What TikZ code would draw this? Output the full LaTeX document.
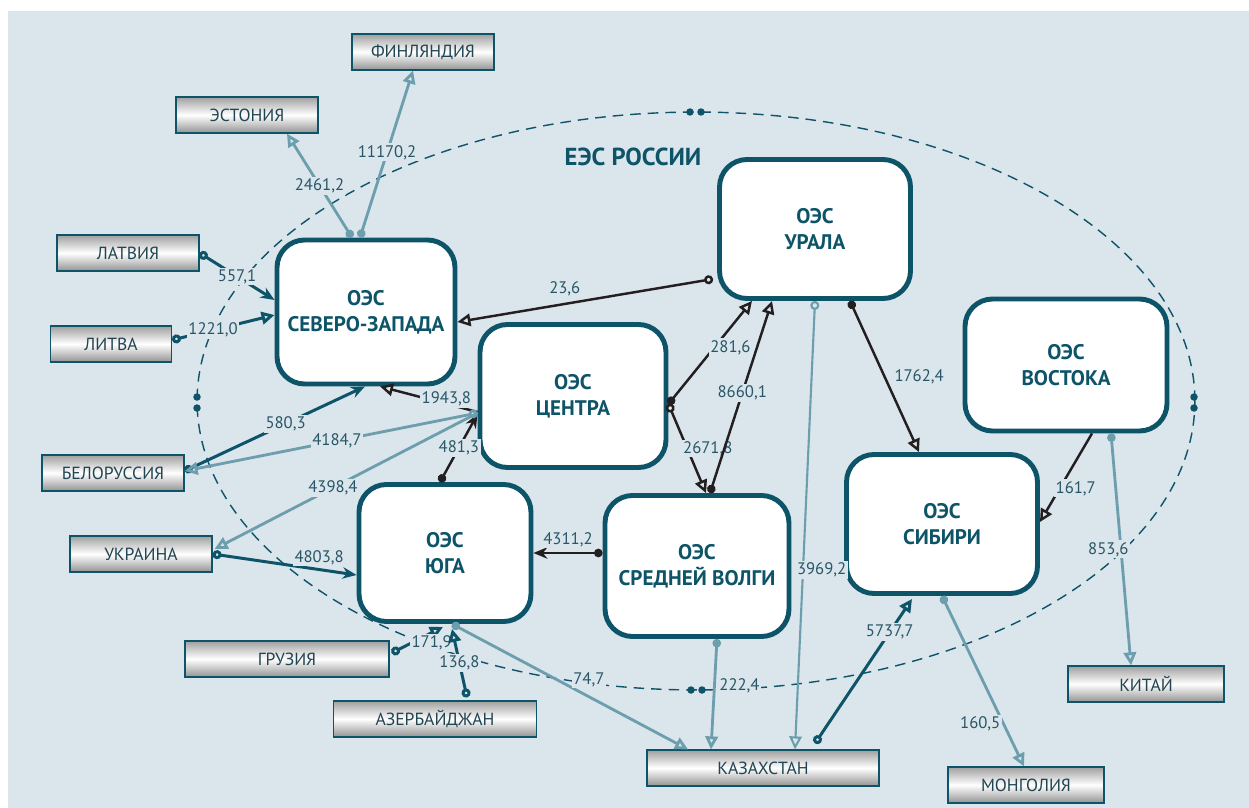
\documentclass[tikz,border=0pt]{standalone}
\usepackage{fontspec}
\setmainfont{PT Sans}
\usetikzlibrary{arrows.meta,calc}

\definecolor{oesteal}{RGB}{14,84,104}
\definecolor{oeslight}{RGB}{108,158,173}
\definecolor{oesblack}{RGB}{35,31,32}
\definecolor{oesbg}{RGB}{218,229,236}
\definecolor{oestext}{RGB}{40,86,102}

\tikzset{
  ring/.tip={Circle[open,length=1.8mm]},
  blob/.tip={Circle[length=1.7mm]},
  hollow/.tip={Triangle[open,length=2.6mm,width=2.5mm]},
  sharp/.tip={Stealth[length=2.8mm,width=2.3mm]}
}

\begin{document}
\begin{tikzpicture}[x=0.02cm, y=-0.02cm,
    oes/.style={draw=oesteal, fill=white, line width=2.8pt, rounded corners=0.55cm, align=center, text=oesteal, font=\bfseries\fontsize{12}{15}\selectfont},
    land/.style={draw=oesteal, line width=0.7pt, top color=gray!75, bottom color=gray!85, middle color=white, minimum height=0.72cm, text=oestext!80!black, font=\fontsize{10}{12}\selectfont},
    val/.style={fill=oesbg, inner sep=1pt, text=oestext, font=\fontsize{9.5}{11}\selectfont},
    dk/.style={draw=oesteal, line width=1.7pt},
    bk/.style={draw=oesblack, line width=1.4pt},
    lt/.style={draw=oeslight, line width=1.6pt}]
    \useasboundingbox (0,0) rectangle (1249,808);
    \fill[oesbg] (8,11) rectangle (1249,808);

    % boundary of the unified system
    \draw[oesteal, line width=0.8pt, dash pattern=on 6pt off 4pt] (696,401) ellipse [x radius=9.98cm, y radius=5.78cm];
    \foreach \px/\py in {690/112, 701/112, 691/690, 702/690, 197/397, 197/408, 1194/397, 1194/408}
        \fill[oesteal] (\px,\py) circle [radius=0.075cm];
    \node[text=oesteal, font=\bfseries\fontsize{14}{16}\selectfont] (title) at (633,157) {ЕЭС РОССИИ};

    % regional systems
    \node[oes, minimum width=3.56cm, minimum height=2.88cm] (sz) at (366,312) {ОЭС\\СЕВЕРО-ЗАПАДА};
    \node[oes, minimum width=3.72cm, minimum height=2.86cm] (cen) at (573,396) {ОЭС\\ЦЕНТРА};
    \node[oes, minimum width=3.82cm, minimum height=2.78cm] (ural) at (815,229) {ОЭС\\УРАЛА};
    \node[oes, minimum width=4.04cm, minimum height=2.64cm] (vost) at (1066,365) {ОЭС\\ВОСТОКА};
    \node[oes, minimum width=3.82cm, minimum height=2.78cm] (sib) at (942,524) {ОЭС\\СИБИРИ};
    \node[oes, minimum width=3.44cm, minimum height=2.74cm] (yug) at (445,553) {ОЭС\\ЮГА};
    \node[oes, minimum width=3.68cm, minimum height=2.82cm] (sv) at (697,566) {ОЭС\\СРЕДНЕЙ ВОЛГИ};

    % neighbouring countries
    \node[land, minimum width=2.84cm] (fin) at (423,52) {ФИНЛЯНДИЯ};
    \node[land, minimum width=2.84cm] (est) at (247,115) {ЭСТОНИЯ};
    \node[land, minimum width=2.84cm] (lat) at (128,253) {ЛАТВИЯ};
    \node[land, minimum width=2.42cm] (lit) at (111,344) {ЛИТВА};
    \node[land, minimum width=2.84cm] (bel) at (113,473) {БЕЛОРУССИЯ};
    \node[land, minimum width=2.84cm] (ukr) at (141,554) {УКРАИНА};
    \node[land, minimum width=4.08cm] (gruz) at (287,659) {ГРУЗИЯ};
    \node[land, minimum width=4.06cm] (azer) at (435,719) {АЗЕРБАЙДЖАН};
    \node[land, minimum width=4.64cm] (kaz) at (763,768) {КАЗАХСТАН};
    \node[land, minimum width=3.12cm] (mon) at (1026,785) {МОНГОЛИЯ};
    \node[land, minimum width=3.12cm] (kit) at (1146,684) {КИТАЙ};

    % imports into the system
    \draw[dk, ring-sharp] (lat.east) -- node[val, pos=0.5] {557,1} ($(sz.west)+(0,-12)$);
    \draw[dk, ring-hollow] ($(lit.east)+(0,-4)$) -- node[val, pos=0.4] {1221,0} ($(sz.west)+(0,3)$);
    \draw[dk, blob-sharp] ($(bel.east)+(0,-2)$) -- node[val, pos=0.56] {580,3} ($(sz.south)+(-1,0)$);
    \draw[dk, ring-sharp] (ukr.east) -- node[val, pos=0.74, above=1pt] {4803,8} ($(yug.west)+(0,22)$);
    \draw[dk, ring-hollow] ($(gruz.east)+(2,-6)$) -- node[val, pos=0.78, yshift=-6pt] {171,9} ($(yug.south)+(-2,3)$);
    \draw[dk, ring-hollow] ($(azer.north)+(32,-3)$) -- node[val, pos=0.5] {136,8} ($(yug.south)+(7,5)$);
    \draw[dk, ring-hollow] ($(kaz.north)+(52,-6)$) -- node[val, pos=0.77] {5737,7} ($(sib.south)+(-30,3)$);

    % flows inside the system
    \draw[bk, -hollow] ($(cen.west)+(0,16)$) -- node[val, pos=0.32, above=-3pt] {1943,8} ($(sz.south)+(14,0)$);
    \draw[bk, blob-sharp] ($(yug.north)+(-5,0)$) -- node[val, pos=0.5] {481,3} ($(cen.west)+(0,18)$);
    \draw[bk, blob-sharp] ($(sv.west)+(0,-13)$) -- node[val, midway, above=2pt] {4311,2} ($(yug.east)+(0,0)$);
    \draw[bk, blob-hollow] ($(cen.east)+(0,8)$) -- node[val, pos=0.55, right=-4pt] {281,6} ($(ural.south)+(-63,0)$);
    \draw[bk, ring-hollow] ($(cen.east)+(0,8)$) -- node[val, pos=0.5, right=-4pt] {2671,8} ($(sv.north)+(9,0)$);
    \draw[bk, blob-hollow] ($(sv.north)+(13,0)$) -- node[val, pos=0.52] {8660,1} ($(ural.south)+(-43,0)$);
    \draw[bk, ring-hollow] ($(ural.west)+(-4,50)$) -- node[val, pos=0.58, above=3pt] {23,6} ($(sz.east)+(0,10)$);
    \draw[bk, blob-hollow] ($(ural.south)+(35,0)$) -- node[val, pos=0.5, right=4pt] {1762,4} ($(sib.north)+(-23,0)$);
    \draw[bk, -hollow] ($(vost.south)+(26,0)$) -- node[val, pos=0.62, right=-4pt] {161,7} ($(sib.east)+(0,-2)$);

    % exports out of the system
    \draw[lt, ring-hollow] ($(cen.west)+(0,17)$) -- node[val, pos=0.48] {4184,7} ($(bel.east)+(0,-2)$);
    \draw[lt, -hollow] ($(cen.west)+(0,17)$) -- node[val, pos=0.55] {4398,4} ($(ukr.east)+(2,-5)$);
    \draw[lt, blob-hollow] ($(yug.south)+(7,0)$) -- node[val, pos=0.58, above=4pt] {74,7} ($(kaz.north)+(-75,0)$);
    \draw[lt, line width=1.2pt, ring-hollow] (ural.south) -- node[val, pos=0.6, right=-5pt] {3969,2} ($(kaz.north)+(32,0)$);
    \draw[lt, blob-hollow] ($(sv.south)+(20,0)$) -- node[val, pos=0.42, right=1pt] {222,4} ($(kaz.north)+(-52,0)$);
    \draw[lt, blob-hollow] ($(vost.south)+(45,0)$) -- node[val, pos=0.5, left=-6pt] {853,6} ($(kit.north)+(-15,0)$);
    \draw[lt, blob-hollow] (sib.south) -- node[val, pos=0.75, left=0pt] {160,5} ($(mon.north)+(-2,0)$);
    \draw[lt, blob-hollow] ($(sz.north)+(-14,0)$) -- node[val, pos=0.5] {2461,2} ($(est.south)+(40,0)$);
    \draw[lt, blob-hollow] ($(sz.north)+(-6,0)$) -- node[val, pos=0.51] {11170,2} ($(fin.south)+(-10,0)$);
\end{tikzpicture}
\end{document}
